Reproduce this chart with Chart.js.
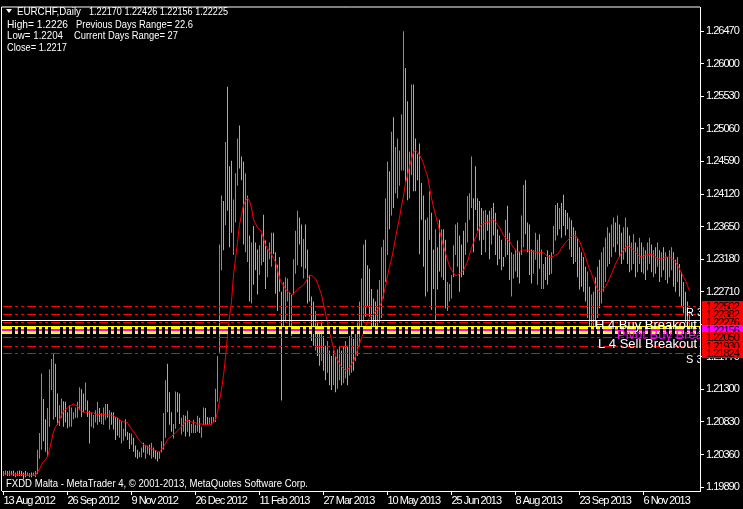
<!DOCTYPE html>
<html>
<head>
<meta charset="utf-8">
<script src="https://cdn.jsdelivr.net/npm/chart.js"></script>
<style>
  html, body { margin: 0; padding: 0; background: #000; }
  canvas { display: block; }
</style>
</head>
<body>
<canvas id="chart" width="743" height="509"></canvas>
<script>
// EURCHF daily bars
const tickLabels = ['13 Aug 2012', '26 Sep 2012', '9 Nov 2012', '26 Dec 2012', '11 Feb 2013', '27 Mar 2013',
                    '10 May 2013', '25 Jun 2013', '8 Aug 2013', '23 Sep 2013', '6 Nov 2013'];
const tickBars = [0, 32, 64, 96, 128, 160, 192, 224, 256, 288, 320];
const priceTicks = [1.26470, 1.26000, 1.25530, 1.25060, 1.24590, 1.24120, 1.23650, 1.23180,
                    1.22710, 1.22240, 1.21770, 1.21300, 1.20830, 1.20360, 1.19890];

const highs = [
  1.2012,1.2013,1.2012,1.2013,1.2012,1.2013,1.2010,1.2012,1.2013,1.2012,1.2010,1.2012,1.2010,1.2009,1.2010,1.2010,1.2012,
  1.2043,1.2067,1.2153,1.2116,1.2087,1.2103,1.2159,1.2174,1.2181,1.2167,1.2124,1.2107,1.2117,1.2113,
  1.2112,1.2097,1.2107,1.2104,1.2097,1.2104,1.2112,1.2133,1.2130,1.2124,1.2140,1.2114,1.2099,1.2097,1.2093,1.2100,1.2112,1.2103,1.2096,1.2104,
  1.2109,1.2109,1.2100,1.2097,1.2097,1.2090,1.2089,1.2086,1.2084,1.2073,1.2087,1.2069,1.2067,1.2066,1.2060,1.2049,1.2043,1.2040,1.2046,1.2053,
  1.2050,1.2049,1.2050,1.2053,1.2046,1.2042,1.2040,1.2040,1.2055,1.2096,1.2143,1.2167,1.2126,1.2097,1.2080,1.2127,1.2126,1.2124,1.2089,1.2093,
  1.2092,1.2099,1.2086,1.2080,1.2086,1.2079,1.2092,1.2089,1.2076,1.2104,1.2103,1.2090,1.2089,1.2090,1.2090,1.2131,1.2178,1.2339,1.2410,1.2402,
  1.2487,1.2567,1.2452,1.2460,1.2404,1.2442,1.2492,1.2511,1.2466,1.2459,1.2442,1.2410,1.2352,1.2342,1.2366,1.2342,1.2332,1.2338,1.2354,1.2382,
  1.2345,1.2332,1.2342,1.2356,1.2356,1.2328,1.2310,1.2321,1.2271,1.2285,1.2292,1.2290,1.2271,1.2267,1.2318,1.2359,1.2388,1.2378,1.2368,1.2347,
  1.2368,1.2332,1.2295,1.2264,1.2257,1.2243,1.2228,1.2214,1.2228,1.2207,1.2193,1.2200,1.2186,1.2178,1.2186,1.2178,1.2188,1.2193,1.2186,1.2193,
  1.2200,1.2193,1.2207,1.2214,1.2203,1.2221,1.2228,1.2257,1.2290,1.2339,1.2346,1.2309,1.2304,1.2275,1.2261,1.2257,1.2274,1.2288,1.2335,1.2346,
  1.2406,1.2459,1.2445,1.2502,1.2523,1.2480,1.2492,1.2475,1.2527,1.2647,1.2594,1.2546,1.2473,1.2570,1.2570,1.2492,1.2470,1.2485,1.2428,1.2410,
  1.2375,1.2378,1.2416,1.2385,1.2332,1.2361,1.2335,1.2375,1.2361,1.2361,1.2346,1.2285,1.2282,1.2295,1.2338,1.2368,1.2371,1.2352,1.2339,1.2359,
  1.2371,1.2409,1.2413,1.2466,1.2406,1.2452,1.2406,1.2402,1.2392,1.2388,1.2389,1.2382,1.2388,1.2392,1.2399,1.2385,1.2361,1.2352,1.2346,1.2321,
  1.2375,1.2395,1.2356,1.2328,1.2325,1.2332,1.2345,1.2328,1.2381,1.2425,1.2432,1.2371,1.2368,1.2332,1.2331,1.2356,1.2346,1.2354,1.2332,1.2311,
  1.2321,1.2331,1.2324,1.2328,1.2366,1.2396,1.2399,1.2392,1.2399,1.2411,1.2389,1.2385,1.2378,1.2374,1.2364,1.2359,1.2349,1.2335,1.2328,1.2321,
  1.2307,1.2300,1.2278,1.2267,1.2271,1.2292,1.2307,1.2317,1.2328,1.2335,1.2349,1.2364,1.2356,1.2368,1.2378,1.2371,1.2381,1.2368,1.2356,1.2364,
  1.2378,1.2364,1.2352,1.2342,1.2354,1.2342,1.2335,1.2349,1.2342,1.2335,1.2331,1.2342,1.2349,1.2339,1.2331,1.2335,1.2342,1.2331,1.2328,1.2335,
  1.2328,1.2321,1.2331,1.2335,1.2328,1.2317,1.2321,1.2311,1.2299,1.2285,1.2271,1.2257,1.2243
];
const lows = [
  1.2005,1.2006,1.2005,1.2005,1.2006,1.2005,1.2003,1.2005,1.2005,1.2005,1.2000,1.2003,1.2005,1.2003,1.2003,1.2005,1.2003,
  1.2008,1.2030,1.2043,1.2055,1.2040,1.2033,1.2076,1.2129,1.2086,1.2090,1.2079,1.2077,1.2089,1.2076,
  1.2082,1.2074,1.2076,1.2076,1.2087,1.2089,1.2089,1.2100,1.2090,1.2097,1.2100,1.2090,1.2052,1.2076,1.2074,1.2082,1.2079,1.2083,1.2080,1.2079,
  1.2086,1.2089,1.2072,1.2079,1.2072,1.2057,1.2063,1.2060,1.2052,1.2056,1.2062,1.2057,1.2044,1.2050,1.2040,1.2032,1.2030,1.2032,1.2032,1.2039,
  1.2030,1.2037,1.2035,1.2030,1.2032,1.2029,1.2026,1.2030,1.2039,1.2043,1.2060,1.2097,1.2079,1.2069,1.2059,1.2073,1.2097,1.2080,1.2065,1.2069,
  1.2062,1.2069,1.2062,1.2067,1.2067,1.2067,1.2069,1.2067,1.2060,1.2079,1.2079,1.2079,1.2080,1.2079,1.2082,1.2083,1.2112,1.2183,1.2302,1.2331,
  1.2367,1.2388,1.2335,1.2356,1.2324,1.2371,1.2424,1.2449,1.2432,1.2339,1.2328,1.2314,1.2257,1.2254,1.2281,1.2302,1.2267,1.2295,1.2309,1.2314,
  1.2275,1.2292,1.2318,1.2307,1.2325,1.2268,1.2243,1.2271,1.2114,1.2214,1.2228,1.2257,1.2214,1.2207,1.2267,1.2297,1.2309,1.2339,1.2307,1.2290,
  1.2304,1.2254,1.2257,1.2200,1.2193,1.2186,1.2178,1.2164,1.2171,1.2157,1.2143,1.2154,1.2136,1.2129,1.2136,1.2126,1.2131,1.2143,1.2136,1.2139,
  1.2146,1.2136,1.2150,1.2154,1.2157,1.2171,1.2178,1.2193,1.2214,1.2228,1.2235,1.2250,1.2235,1.2221,1.2217,1.2214,1.2221,1.2226,1.2233,1.2261,
  1.2285,1.2324,1.2361,1.2381,1.2392,1.2413,1.2406,1.2424,1.2446,1.2446,1.2430,1.2403,1.2406,1.2439,1.2416,1.2416,1.2432,1.2325,1.2375,1.2307,
  1.2264,1.2271,1.2346,1.2245,1.2275,1.2228,1.2274,1.2300,1.2292,1.2288,1.2247,1.2243,1.2257,1.2261,1.2292,1.2324,1.2307,1.2271,1.2292,1.2295,
  1.2324,1.2342,1.2375,1.2392,1.2328,1.2389,1.2359,1.2345,1.2324,1.2346,1.2328,1.2359,1.2318,1.2339,1.2352,1.2324,1.2309,1.2318,1.2302,1.2307,
  1.2321,1.2324,1.2288,1.2264,1.2290,1.2300,1.2292,1.2283,1.2324,1.2335,1.2354,1.2328,1.2295,1.2283,1.2297,1.2317,1.2281,1.2304,1.2275,1.2275,
  1.2288,1.2281,1.2295,1.2297,1.2325,1.2345,1.2352,1.2361,1.2349,1.2366,1.2352,1.2361,1.2332,1.2321,1.2311,1.2314,1.2292,1.2274,1.2278,1.2271,
  1.2257,1.2233,1.2218,1.2211,1.2214,1.2218,1.2233,1.2247,1.2254,1.2271,1.2285,1.2307,1.2311,1.2321,1.2335,1.2328,1.2339,1.2321,1.2311,1.2317,
  1.2328,1.2311,1.2299,1.2302,1.2311,1.2292,1.2299,1.2311,1.2299,1.2297,1.2288,1.2302,1.2311,1.2299,1.2292,1.2297,1.2307,1.2285,1.2292,1.2302,
  1.2288,1.2283,1.2292,1.2302,1.2278,1.2271,1.2285,1.2264,1.2250,1.2240,1.2226,1.2214,1.2216
];
// 1 = up bar (green), 0 = down bar (orange)
const bull = [
  1,1,0,1,0,0,1,1,0,0,0,0,1,1,0,1,1,
  1,1,1,0,0,1,1,1,1,0,0,1,1,0,
  0,0,1,1,1,1,1,1,0,0,1,0,0,1,1,1,1,0,1,1,
  1,0,1,0,0,0,0,1,1,1,0,0,0,1,0,0,0,1,1,0,
  1,1,0,1,0,0,0,1,1,1,1,0,0,0,1,1,0,0,1,1,
  0,1,0,1,1,1,1,0,1,1,0,0,1,1,1,1,1,1,1,0,
  1,0,0,0,1,1,1,0,0,0,1,1,0,1,0,0,0,1,1,0,
  0,1,1,1,0,0,0,0,0,1,1,1,1,1,1,1,1,0,0,1,
  0,0,0,0,0,1,0,0,1,0,0,1,0,0,1,0,1,1,0,1,
  1,0,1,1,0,1,1,1,1,1,0,0,0,0,0,0,1,1,1,1,
  1,1,0,1,0,1,1,1,1,1,0,0,1,1,0,0,0,0,0,0,
  0,1,1,0,0,1,0,0,1,0,0,1,1,1,1,1,1,0,0,0,
  1,1,1,1,0,0,0,0,0,1,1,0,0,1,0,0,0,0,0,0,
  1,0,0,1,1,1,0,0,1,1,0,0,0,0,1,1,1,0,1,1,
  0,0,0,1,1,1,0,1,0,0,0,0,1,0,0,1,0,0,0,0,
  0,1,0,1,1,0,1,0,1,1,1,1,0,1,1,0,1,0,0,1,
  1,0,0,1,1,0,1,1,0,1,0,1,1,0,1,0,1,0,1,0,
  1,0,1,1,0,0,1,0,0,0,0,0,1
];
// red moving average line
const ma = [
  1.2008,1.2008,1.2008,1.2008,1.2008,1.2008,1.2007,1.2007,1.2007,1.2007,1.2007,1.2006,1.2006,1.2006,1.2006,1.2006,1.2006,
  1.2011,1.2015,1.2021,1.2026,1.2029,1.2033,1.2043,1.2056,1.2069,1.2076,1.2080,1.2086,1.2093,1.2099,
  1.2101,1.2104,1.2106,1.2107,1.2109,1.2107,1.2106,1.2101,1.2099,1.2097,1.2097,1.2097,1.2096,1.2096,1.2096,1.2094,1.2094,1.2094,1.2094,1.2094,
  1.2093,1.2093,1.2093,1.2092,1.2092,1.2090,1.2089,1.2086,1.2084,1.2083,1.2083,1.2082,1.2077,1.2073,1.2069,1.2065,1.2060,1.2056,1.2053,1.2050,
  1.2049,1.2047,1.2046,1.2044,1.2043,1.2042,1.2040,1.2040,1.2043,1.2047,1.2052,1.2057,1.2060,1.2062,1.2065,1.2067,1.2070,1.2073,1.2076,1.2080,
  1.2083,1.2086,1.2084,1.2083,1.2082,1.2082,1.2080,1.2080,1.2080,1.2079,1.2079,1.2079,1.2079,1.2080,1.2083,1.2086,1.2097,1.2114,1.2130,1.2150,
  1.2176,1.2208,1.2235,1.2257,1.2295,1.2319,1.2342,1.2368,1.2382,1.2396,1.2402,1.2406,1.2402,1.2392,1.2375,1.2369,1.2364,1.2361,1.2358,1.2348,
  1.2338,1.2334,1.2329,1.2325,1.2319,1.2314,1.2302,1.2291,1.2284,1.2280,1.2275,1.2271,1.2270,1.2267,1.2268,1.2271,1.2274,1.2277,1.2278,1.2281,
  1.2285,1.2290,1.2294,1.2295,1.2292,1.2290,1.2283,1.2275,1.2267,1.2253,1.2240,1.2226,1.2213,1.2201,1.2190,1.2178,1.2173,1.2167,1.2163,1.2160,
  1.2157,1.2159,1.2161,1.2166,1.2171,1.2178,1.2187,1.2196,1.2204,1.2213,1.2221,1.2228,1.2233,1.2235,1.2238,1.2243,1.2245,1.2250,1.2255,1.2267,
  1.2278,1.2294,1.2307,1.2318,1.2332,1.2349,1.2364,1.2378,1.2395,1.2409,1.2428,1.2439,1.2452,1.2462,1.2473,1.2475,1.2473,1.2468,1.2463,1.2456,
  1.2446,1.2438,1.2422,1.2406,1.2393,1.2382,1.2371,1.2359,1.2348,1.2337,1.2327,1.2317,1.2308,1.2302,1.2298,1.2294,1.2295,1.2297,1.2299,1.2302,
  1.2308,1.2314,1.2325,1.2334,1.2342,1.2349,1.2356,1.2364,1.2368,1.2369,1.2371,1.2371,1.2372,1.2374,1.2375,1.2372,1.2368,1.2364,1.2358,1.2352,
  1.2349,1.2346,1.2344,1.2339,1.2335,1.2331,1.2328,1.2329,1.2331,1.2331,1.2331,1.2331,1.2331,1.2329,1.2329,1.2328,1.2328,1.2328,1.2328,1.2327,
  1.2325,1.2322,1.2321,1.2321,1.2322,1.2324,1.2325,1.2329,1.2334,1.2338,1.2342,1.2345,1.2348,1.2351,1.2352,1.2352,1.2348,1.2344,1.2337,1.2329,
  1.2321,1.2312,1.2304,1.2297,1.2288,1.2281,1.2275,1.2271,1.2272,1.2275,1.2278,1.2284,1.2290,1.2297,1.2304,1.2311,1.2317,1.2322,1.2327,1.2331,
  1.2335,1.2337,1.2335,1.2334,1.2331,1.2328,1.2325,1.2322,1.2321,1.2322,1.2324,1.2324,1.2325,1.2325,1.2324,1.2321,1.2319,1.2318,1.2318,1.2319,
  1.2321,1.2321,1.2321,1.2319,1.2317,1.2314,1.2309,1.2304,1.2298,1.2292,1.2287,1.2280,1.2272
];

// pivot indicator levels
const resistLevels = [1.22502, 1.22382, 1.22276];
const supportLevels = [1.22050, 1.21930, 1.21824];
const pivotLevel = 1.22156;
const bandLevels = [1.22215, 1.22105];
const h4Level = 1.22297;

const headerTitle = 'EURCHF,Daily';
const headerPrices = '1.22170 1.22426 1.22156 1.22225';
const infoLeft = ['High= 1.2226', 'Low= 1.2204', 'Close= 1.2217'];
const infoRight = ['Previous Days Range= 22.6', 'Current Days Range= 27'];
const copyright = 'FXDD Malta - MetaTrader 4, \u00A9 2001-2013, MetaQuotes Software Corp.';

const GREEN = '#32cd32';
const ORANGE = '#f0a030';
const FONT = "'Liberation Sans', Arial, sans-serif";

function text(c, s, x, y, w, color, size) {
  c.fillStyle = color;
  c.font = (size || 11) + 'px ' + FONT;
  c.fillText(s, x, y, w);
}

const mt4 = {
  id: 'mt4',
  beforeDraw(chart) {
    const c = chart.ctx;
    c.save();
    c.fillStyle = '#000';
    c.fillRect(0, 0, chart.width, chart.height);
    c.restore();
    c.letterSpacing = '-1px';
  },
  afterDatasetsDraw(chart) {
    const c = chart.ctx, a = chart.chartArea, y = chart.scales.y;
    const w = a.right - a.left;
    c.save();
    c.letterSpacing = '0px';
    c.beginPath();
    c.rect(a.left, a.top, w, a.bottom - a.top);
    c.clip();

    // yellow band with black blocks and the magenta pivot
    const yb1 = Math.round(y.getPixelForValue(bandLevels[0]));
    const yb2 = Math.round(y.getPixelForValue(bandLevels[1]));
    c.fillStyle = '#ffff00';
    c.fillRect(a.left, yb1, w, yb2 - yb1);
    const yp = Math.round(y.getPixelForValue(pivotLevel));
    c.fillStyle = '#ff00ff';
    c.fillRect(a.left, yp - 1, w, 2);
    c.fillStyle = '#000';
    for (let x = a.left + 10; x < a.right; x += 24) {
      for (let k = 0; k < 3; k++) c.fillRect(x + k * 6, yb1 + 1, 3, yb2 - yb1 - 1);
    }

    // white H4 line
    const yw = Math.round(y.getPixelForValue(h4Level)) + 0.5;
    c.strokeStyle = '#ffffff';
    c.lineWidth = 1;
    c.beginPath(); c.moveTo(a.left, yw); c.lineTo(a.right, yw); c.stroke();

    // red dash-dot-dot levels
    c.strokeStyle = '#ff0000';
    c.setLineDash([9, 3, 3, 3, 3, 3]);
    c.lineDashOffset = -1;
    resistLevels.concat(supportLevels).forEach(v => {
      const yy = Math.round(y.getPixelForValue(v)) + 0.5;
      c.beginPath(); c.moveTo(a.left, yy); c.lineTo(a.right, yy); c.stroke();
    });
    c.setLineDash([]);

    // level captions
    c.textBaseline = 'alphabetic';
    text(c, 'R 3', 686, 316, undefined, '#ffffff', 11);
    text(c, 'H 4 Buy Breakout', 595, 329, undefined, '#ffffff', 13);
    text(c, 'Pivot Buy Breakout', 617, 339, undefined, '#ff00ff', 13);
    text(c, 'L 4 Sell Breakout', 598, 348, undefined, '#ffffff', 13);
    text(c, 'S 3', 686, 363, undefined, '#ffffff', 11);
    c.restore();
  },
  afterDraw(chart) {
    const c = chart.ctx, a = chart.chartArea, y = chart.scales.y;
    c.save();
    c.letterSpacing = '0px';
    // frame left/top
    c.strokeStyle = '#ffffff';
    c.lineWidth = 1;
    c.beginPath();
    c.moveTo(a.left - 0.5, a.bottom); c.lineTo(a.left - 0.5, a.top - 0.5); c.lineTo(a.right, a.top - 0.5);
    c.stroke();

    // price boxes on the axis
    const boxes = resistLevels.map(v => [v, '#ff0000'])
      .concat([[pivotLevel, '#ff00ff']])
      .concat(supportLevels.map(v => [v, '#ff0000']));
    c.textBaseline = 'middle';
    c.letterSpacing = '-1px';
    boxes.forEach(([v, col]) => {
      const yy = Math.round(y.getPixelForValue(v));
      c.fillStyle = col;
      c.fillRect(a.right + 2, yy - 5, chart.width - a.right - 2, 10);
      text(c, v.toFixed(5), a.right + 6, yy + 0.5, undefined, '#000000', 11);
    });
    c.letterSpacing = '0px';

    // header
    c.fillStyle = '#ffffff';
    c.beginPath(); c.moveTo(6, 9); c.lineTo(12, 9); c.lineTo(9, 13); c.closePath(); c.fill();
    c.textBaseline = 'alphabetic';
    text(c, headerTitle, 17, 15, 64, '#ffffff');
    text(c, headerPrices, 89, 15, 139, '#ffffff');
    text(c, infoLeft[0], 7, 28, 61, '#ffffff');
    text(c, infoRight[0], 76, 28, 117, '#ffffff');
    text(c, infoLeft[1], 7, 39, 56, '#ffffff');
    text(c, infoRight[1], 74, 39, 104, '#ffffff');
    text(c, infoLeft[2], 7, 51, 60, '#ffffff');
    text(c, copyright, 6, 487, 302, '#ffffff');
    c.restore();
  }
};

const barData = highs.map((h, i) => ({ x: i, y: [lows[i], h] }));
const maData = ma.map((v, i) => ({ x: i, y: v }));

new Chart(document.getElementById('chart'), {
  type: 'bar',
  data: {
    datasets: [
      { type: 'line', data: maData, borderColor: '#ff0000', borderWidth: 1, pointRadius: 0, tension: 0, order: 0 },
      { type: 'bar', data: barData, backgroundColor: bull.map(b => b ? GREEN : ORANGE),
        barThickness: 1, inflateAmount: 0, borderWidth: 0, order: 1 }
    ]
  },
  options: {
    responsive: false,
    animation: false,
    devicePixelRatio: 1,
    layout: { padding: { left: 2, top: 2, right: 0, bottom: 0 } },
    plugins: { legend: { display: false }, tooltip: { enabled: false } },
    scales: {
      x: {
        type: 'linear', min: -0.75, max: 348.25, offset: false,
        afterBuildTicks: s => { s.ticks = tickBars.map(v => ({ value: v })); },
        afterFit: s => { s.height = 18; },
        ticks: {
          color: '#ffffff', autoSkip: false, maxRotation: 0, align: 'start', padding: 0,
          font: { family: FONT, size: 11, lineHeight: 1 },
          callback: v => tickLabels[tickBars.indexOf(v)]
        },
        grid: { offset: false, drawOnChartArea: false, color: '#ffffff', tickLength: 4 },
        border: { color: '#ffffff' }
      },
      y: {
        position: 'right', min: 1.198329, max: 1.268126,
        afterBuildTicks: s => { s.ticks = priceTicks.map(v => ({ value: v })); },
        afterFit: s => { s.width = 43; },
        ticks: {
          color: '#ffffff', autoSkip: false, padding: 2,
          font: { family: FONT, size: 11, lineHeight: 1 },
          callback: v => v.toFixed(5)
        },
        grid: { drawOnChartArea: false, color: '#ffffff', tickLength: 4 },
        border: { color: '#ffffff' }
      }
    }
  },
  plugins: [mt4]
});
</script>
</body>
</html>
